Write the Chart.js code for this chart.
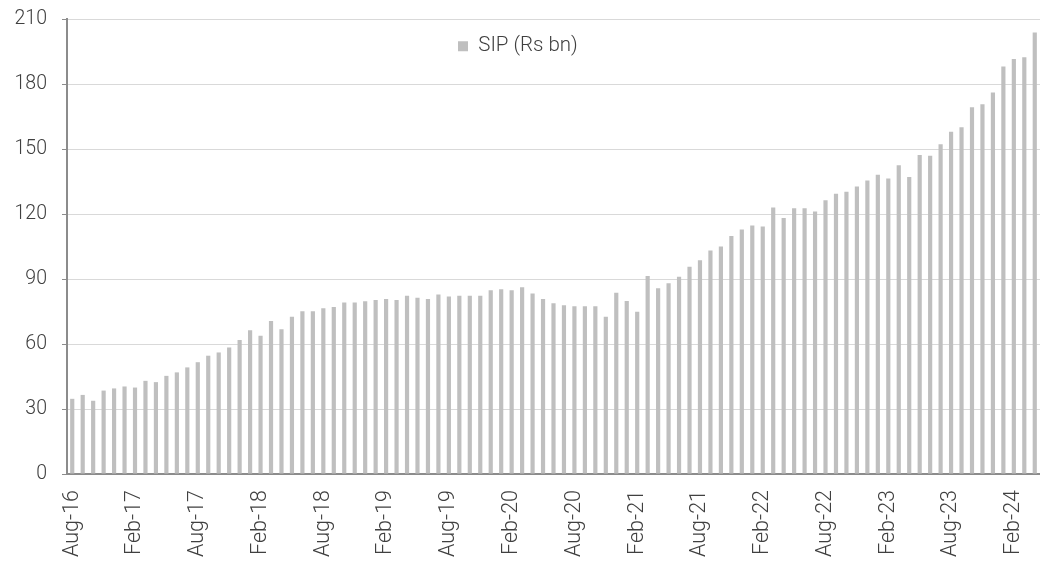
<!DOCTYPE html>
<html>
<head>
<meta charset="utf-8">
<title>SIP (Rs bn)</title>
<script src="https://cdn.jsdelivr.net/npm/chart.js@4.4.1/dist/chart.umd.min.js"></script>
<style>
  html, body { margin: 0; padding: 0; background: #ffffff; }
  #wrap { width: 1040px; height: 562px; position: relative; }
</style>
</head>
<body>
<div id="wrap"><canvas id="sip" width="1040" height="562"></canvas></div>
<script>
// Monthly categories, Aug-16 to Apr-24
const months = [
  'Aug-16','Sep-16','Oct-16','Nov-16','Dec-16',
  'Jan-17','Feb-17','Mar-17','Apr-17','May-17','Jun-17','Jul-17','Aug-17','Sep-17','Oct-17','Nov-17','Dec-17',
  'Jan-18','Feb-18','Mar-18','Apr-18','May-18','Jun-18','Jul-18','Aug-18','Sep-18','Oct-18','Nov-18','Dec-18',
  'Jan-19','Feb-19','Mar-19','Apr-19','May-19','Jun-19','Jul-19','Aug-19','Sep-19','Oct-19','Nov-19','Dec-19',
  'Jan-20','Feb-20','Mar-20','Apr-20','May-20','Jun-20','Jul-20','Aug-20','Sep-20','Oct-20','Nov-20','Dec-20',
  'Jan-21','Feb-21','Mar-21','Apr-21','May-21','Jun-21','Jul-21','Aug-21','Sep-21','Oct-21','Nov-21','Dec-21',
  'Jan-22','Feb-22','Mar-22','Apr-22','May-22','Jun-22','Jul-22','Aug-22','Sep-22','Oct-22','Nov-22','Dec-22',
  'Jan-23','Feb-23','Mar-23','Apr-23','May-23','Jun-23','Jul-23','Aug-23','Sep-23','Oct-23','Nov-23','Dec-23',
  'Jan-24','Feb-24','Mar-24','Apr-24'
];

// Monthly SIP inflows, Rs bn
const sipValues = [
  34.7, 36.5, 33.8, 38.5, 39.5,
  40.4, 39.9, 43.0, 42.4, 45.3, 46.9, 49.2, 51.6, 54.6, 56.1, 58.4, 61.8,
  66.3, 63.8, 70.6, 66.8, 72.6, 75.1, 75.1, 76.5, 77.1, 79.2, 79.2, 79.7,
  80.3, 80.8, 80.3, 82.3, 81.4, 80.8, 82.8, 81.9, 82.3, 82.3, 82.3, 84.8,
  85.3, 84.8, 86.2, 83.3, 80.8, 78.8, 77.9, 77.4, 77.4, 77.4, 72.6, 83.7,
  79.9, 74.9, 91.4, 85.7, 88.0, 91.0, 95.7, 98.7, 103.1, 105.0, 109.9, 112.9,
  114.7, 114.2, 123.0, 118.1, 122.6, 122.6, 121.2, 126.4, 129.4, 130.3, 132.7, 135.5,
  138.1, 136.4, 142.5, 137.1, 147.2, 146.9, 152.2, 158.0, 160.0, 169.3, 170.7, 176.1,
  188.1, 191.5, 192.4, 203.8
];

const seriesName = 'SIP (Rs bn)';

// Y axis range and step
const yMin = 0;
const yMax = 210;
const yStep = 30;

// Every sixth month gets a label on the category axis
const labelEvery = 6;

const axisGrey = '#8c8c8c';
const gridGrey = '#d9d9d9';
const textGrey = '#404040';
const barGrey = '#bfbfbf';
const fontFamily = 'Roboto, "Noto Sans", sans-serif';

// Centres the single legend entry on the canvas, just under the top gridline
const legendPlacement = {
  id: 'legendPlacement',
  afterLayout(chart) {
    const lg = chart.legend;
    if (!lg || !lg.columnSizes || !lg.columnSizes.length) return;
    const pad = lg.options.labels.padding;
    const itemW = lg.columnSizes[0].width;
    const left = Math.round(chart.width / 2 - itemW / 2) - pad - 2;
    lg.left = left;
    lg.right = left + itemW + pad * 2;
    lg.width = lg.right - lg.left;
    lg.top = 26;
    lg.bottom = 90;
    lg.height = lg.bottom - lg.top;
  }
};

new Chart(document.getElementById('sip'), {
  type: 'bar',
  data: {
    labels: months,
    datasets: [{
      label: seriesName,
      data: sipValues,
      backgroundColor: barGrey,
      borderWidth: 0,
      barPercentage: 0.4,
      categoryPercentage: 1.0
    }]
  },
  options: {
    responsive: false,
    animation: false,
    devicePixelRatio: 1,
    layout: { padding: { top: 19, right: 0, bottom: 0, left: 0 } },
    plugins: {
      legend: {
        position: 'chartArea',
        align: 'start',
        labels: {
          boxWidth: 10,
          boxHeight: 10,
          padding: 10,
          color: textGrey,
          font: { family: fontFamily, size: 20.5, weight: '300' }
        }
      },
      tooltip: { enabled: false }
    },
    scales: {
      x: {
        offset: true,
        grid: { display: false, drawTicks: false },
        border: { display: true, color: axisGrey, width: 2 },
        ticks: {
          autoSkip: false,
          minRotation: 90,
          maxRotation: 90,
          padding: 16,
          color: textGrey,
          font: { family: fontFamily, size: 21.5, weight: '300' },
          callback: function (value, index) {
            return index % labelEvery === 0 ? months[index] : '';
          }
        },
        afterFit(scale) {
          scale.height = 88;
          scale.paddingLeft = 0;
          scale.paddingRight = 0;
        }
      },
      y: {
        min: yMin,
        max: yMax,
        grid: {
          color: (c) => (c.tick && c.tick.value === 0) ? 'rgba(0,0,0,0)' : gridGrey,
          lineWidth: 1,
          drawTicks: true,
          tickLength: 5,
          tickColor: axisGrey
        },
        border: { display: true, color: axisGrey, width: 2 },
        ticks: {
          stepSize: yStep,
          padding: 15,
          color: textGrey,
          font: { family: fontFamily, size: 19.5, weight: '300' }
        },
        afterFit(scale) {
          scale.width = 67;
          scale.paddingTop = 0;
          scale.paddingBottom = 0;
        }
      }
    }
  },
  plugins: [legendPlacement]
});
</script>
</body>
</html>
